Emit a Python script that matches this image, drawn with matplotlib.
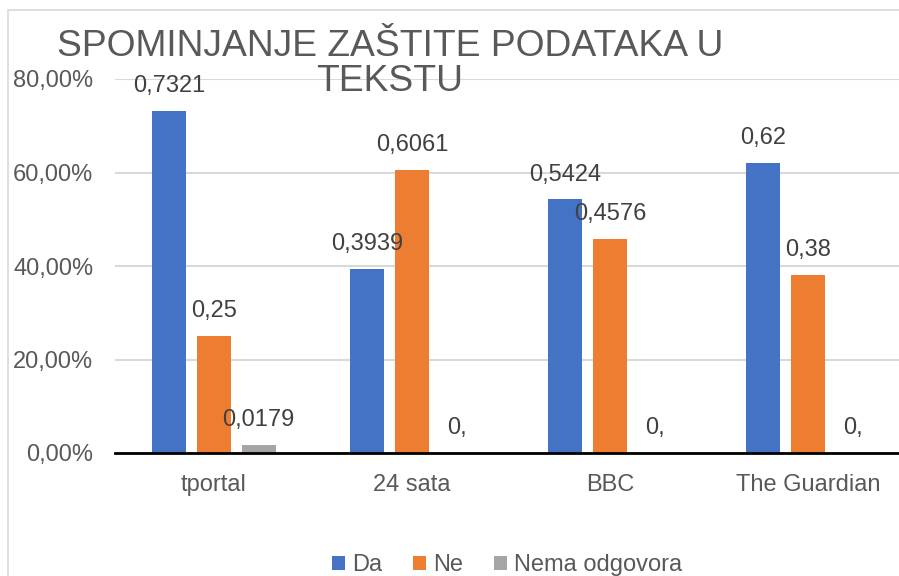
import matplotlib
matplotlib.use("Agg")
import matplotlib.pyplot as plt
import numpy as np
from matplotlib.patches import Rectangle
from matplotlib.ticker import FuncFormatter

plt.rcParams['font.family'] = ['Liberation Sans', 'DejaVu Sans']

categories = ['tportal', '24 sata', 'BBC', 'The Guardian']
series_names = ['Da', 'Ne', 'Nema odgovora']
da = [0.7321, 0.3939, 0.5424, 0.62]
ne = [0.25, 0.6061, 0.4576, 0.38]
nema = [0.0179, 0.0, 0.0, 0.0]
colors = ['#4472C4', '#ED7D31', '#A5A5A5']

W, H = 899, 576
fig = plt.figure(figsize=(W / 100, H / 100), dpi=100)

# light chart border (picture is a crop of a bigger chart)
fig.patches.append(Rectangle((8 / W, -0.1), 1.2, 1 - 10 / H + 0.1, transform=fig.transFigure,
                             fill=False, edgecolor='#D9D9D9', linewidth=1.2))

ax = fig.add_axes([115 / W, 1 - 453 / H, 792 / W, (453 - 79) / H])

x = np.arange(len(categories))
width = 0.172
offsets = [-0.225, 0, 0.225]
text_col = '#404040'
fs = 17

def fmt(v):
    return f"{v:.4f}".rstrip('0').replace('.', ',')

for vals, off, col, name in zip([da, ne, nema], offsets, colors, series_names):
    bars = ax.bar(x + off, vals, width, color=col, label=name, zorder=3)
    for b, v in zip(bars, vals):
        ax.annotate(fmt(v), (b.get_x() + b.get_width() / 2, v), xytext=(0, 10),
                    textcoords='offset points', ha='center', va='bottom',
                    fontsize=fs, color=text_col, zorder=4)

ax.set_xlim(-0.5, len(categories) - 0.5)
ax.set_ylim(0, 0.8)
ax.set_yticks([0, 0.2, 0.4, 0.6, 0.8])
ax.yaxis.set_major_formatter(FuncFormatter(lambda v, p: f"{v * 100:.2f}%".replace('.', ',')))
ax.set_xticks(x)
ax.set_xticklabels(categories)
ax.tick_params(axis='both', length=0, labelsize=fs, labelcolor='#595959')
ax.tick_params(axis='y', pad=15.5)
ax.tick_params(axis='x', pad=15)
ax.grid(axis='y', color='#D9D9D9', linewidth=1.5, zorder=0)
ax.set_axisbelow(True)
for s in ['top', 'right', 'left']:
    ax.spines[s].set_visible(False)
ax.spines['bottom'].set_color('black')
ax.spines['bottom'].set_linewidth(2)
ax.spines['bottom'].set_zorder(5)

fig.text(390 / W, 1 - 64 / H, 'SPOMINJANJE ZAŠTITE PODATAKA U\nTEKSTU', ha='center', va='center',
         fontsize=26.8, color='#595959', linespacing=1.0)

fig.legend(loc='center', bbox_to_anchor=(507 / W, 1 - 565 / H), ncol=3, frameon=False,
           fontsize=fs, labelcolor='#595959', handlelength=0.55, handleheight=0.55,
           handletextpad=0.3, columnspacing=1.3)

fig.savefig('out.png', dpi=100)
